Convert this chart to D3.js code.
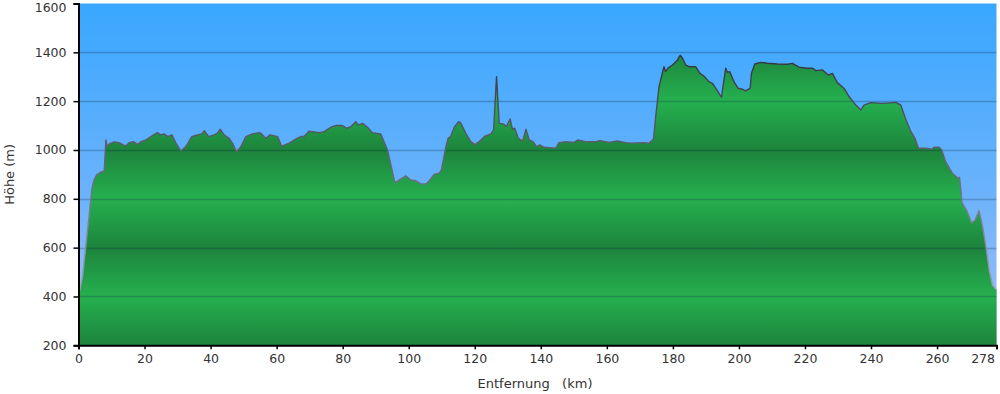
<!DOCTYPE html>
<html lang="de">
<head>
    <meta charset="UTF-8">
    <title>Höhenprofil</title>
    <style>
        body {
            margin: 0;
            background: #fff;
        }
        text {
            font-family: "DejaVu Sans", sans-serif;
            fill: #333;
        }
        .tick text {
            font-size: 12.5px;
        }
        .axis-title {
            font-size: 13px;
        }
    </style>
</head>
<body>
    <svg width="1000" height="394"></svg>

    <script src="https://d3js.org/d3.v7.min.js"></script>
    <script>
        // profile: distance in km, height in m
        var distKm = [0, 0.4, 1.2, 2.2, 3.2, 4.0, 4.7, 5.5, 6.5, 7.8, 8.3, 8.6, 9.3, 10.8, 12.3, 14.3, 15.3, 16.6, 17.9, 18.9,
            20.4, 21.9, 23.9, 24.9, 25.9, 27.0, 28.3, 29.5, 31.0, 32.5, 34.3, 36.0, 37.4, 38.1, 39.4, 41.1, 42.1, 42.9, 44.1, 45.6,
            46.6, 47.9, 49.2, 50.7, 52.7, 54.7, 55.2, 56.7, 58.0, 60.3, 61.5, 63.8, 65.3, 67.3, 68.3, 69.8, 72.9, 74.4, 76.4, 77.9,
            79.9, 81.3, 82.5, 84.0, 84.7, 86.0, 87.5, 89.0, 91.5, 93.6, 95.8, 97.1, 99.1, 100.6, 102.2, 103.7, 105.2, 106.2, 107.7, 109.2,
            109.9, 111.2, 112.0, 112.7, 113.8, 115.1, 115.8, 117.3, 118.8, 120.1, 121.3, 123.1, 124.9, 125.7, 126.6, 127.4, 128.6, 129.6, 130.7, 131.4,
            132.1, 133.2, 134.5, 135.5, 136.5, 137.7, 138.7, 139.7, 141.0, 144.5, 145.5, 147.6, 150.1, 151.1, 153.6, 156.7, 157.9, 160.7, 163.2, 165.7,
            167.3, 171.3, 172.8, 174.1, 174.8, 175.8, 176.9, 177.3, 177.8, 178.5, 179.9, 181.4, 182.2, 182.9, 183.9, 184.9, 186.9, 188.2, 189.4, 190.9,
            192.0, 193.3, 194.7, 196.0, 196.5, 197.2, 198.5, 199.7, 201.0, 202.0, 203.4, 203.8, 204.8, 206.6, 208.6, 211.7, 214.7, 216.2, 218.2, 220.7,
            222.3, 223.3, 225.3, 227.1, 228.3, 229.8, 231.8, 233.4, 235.4, 236.9, 237.9, 239.9, 243.5, 247.5, 249.0, 250.6, 252.1, 253.3, 254.4, 256.6,
            258.4, 259.1, 260.6, 261.4, 262.6, 264.6, 266.4, 266.8, 267.6, 268.9, 270.5, 271.5, 272.7, 273.8, 274.8, 275.8, 276.8, 277.8, 278];
        var elevM = [430, 426, 481, 604, 727, 836, 877, 898, 907, 915, 1041, 1014, 1025, 1033, 1030, 1016, 1030, 1034, 1023, 1034,
            1041, 1055, 1071, 1062, 1066, 1055, 1062, 1028, 996, 1014, 1055, 1062, 1066, 1079, 1055, 1062, 1069, 1085, 1062, 1048,
            1028, 993, 1014, 1055, 1066, 1071, 1069, 1048, 1062, 1055, 1016, 1028, 1041, 1055, 1055, 1077, 1071, 1075, 1093, 1100,
            1100, 1089, 1096, 1116, 1102, 1109, 1093, 1071, 1066, 1000, 866, 877, 894, 877, 874, 861, 861, 874, 900, 905,
            918, 1010, 1050, 1055, 1093, 1116, 1109, 1068, 1034, 1022, 1034, 1057, 1066, 1082, 1300, 1109, 1107, 1096, 1127, 1085,
            1089, 1048, 1036, 1085, 1041, 1034, 1014, 1021, 1011, 1007, 1030, 1034, 1031, 1041, 1034, 1034, 1038, 1031, 1037, 1030,
            1028, 1030, 1028, 1044, 1137, 1259, 1321, 1341, 1321, 1335, 1348, 1369, 1388, 1376, 1348, 1341, 1341, 1314, 1303, 1280,
            1273, 1246, 1216, 1335, 1318, 1321, 1280, 1253, 1249, 1242, 1253, 1314, 1352, 1359, 1355, 1352, 1351, 1355, 1339, 1335,
            1335, 1325, 1328, 1307, 1314, 1276, 1253, 1218, 1184, 1164, 1184, 1194, 1191, 1195, 1184, 1123, 1075, 1048, 1007, 1007,
            1003, 1011, 1011, 1000, 952, 905, 884, 888, 782, 754, 702, 713, 751, 686, 604, 508, 447, 429, 430];

        var xTicks = [0, 20, 40, 60, 80, 100, 120, 140, 160, 180, 200, 220, 240, 260, 278];
        var yTicks = [200, 400, 600, 800, 1000, 1200, 1400, 1600];

        var profile = distKm.map(function(d, i) { return {km: d, m: elevM[i]}; });

        var svg = d3.select("svg"),
            width = +svg.attr("width"),
            height = +svg.attr("height");

        var margin = {top: 3.5, right: 3.5, bottom: 48.7, left: 78.5};

        var x = d3.scaleLinear().domain([0, 278]).range([margin.left, width - margin.right]);
        var y = d3.scaleLinear().domain([200, 1600]).range([height - margin.bottom, margin.top]);

        var defs = svg.append("defs");

        var sky = defs.append("linearGradient")
            .attr("id", "sky")
            .attr("x1", 0).attr("y1", 0).attr("x2", 0).attr("y2", 1);
        sky.append("stop").attr("offset", "0%").attr("stop-color", "#38a7ff");
        sky.append("stop").attr("offset", "55%").attr("stop-color", "#6bb2fb");
        sky.append("stop").attr("offset", "100%").attr("stop-color", "#a6c0f2");

        // green bands: dark and light alternating every 200 m
        var ground = defs.append("linearGradient")
            .attr("id", "ground")
            .attr("gradientUnits", "userSpaceOnUse")
            .attr("x1", 0).attr("x2", 0)
            .attr("y1", y(1600)).attr("y2", y(200));
        yTicks.slice().reverse().forEach(function(v, i) {
            ground.append("stop")
                .attr("offset", (i / (yTicks.length - 1) * 100) + "%")
                .attr("stop-color", (v / 200) % 2 === 1 ? "#1d843c" : "#25b04f");
        });

        var edge = defs.append("linearGradient")
            .attr("id", "edge")
            .attr("gradientUnits", "userSpaceOnUse")
            .attr("x1", 0).attr("x2", 0)
            .attr("y1", y(1400)).attr("y2", y(400));
        edge.append("stop").attr("offset", "0%").attr("stop-color", "#33333d");
        edge.append("stop").attr("offset", "100%").attr("stop-color", "#9ba3bb");

        svg.append("rect")
            .attr("x", x(0))
            .attr("y", y(1600))
            .attr("width", x(278) - x(0))
            .attr("height", y(200) - y(1600))
            .attr("fill", "url(#sky)");

        var area = d3.area()
            .x(function(d) { return x(d.km); })
            .y0(y(200))
            .y1(function(d) { return y(d.m); });

        svg.append("path")
            .datum(profile)
            .attr("d", area)
            .attr("fill", "url(#ground)");

        // grid lines
        svg.append("g")
            .selectAll("line")
            .data(yTicks.slice(1, -1))
            .enter().append("line")
            .attr("x1", x(0))
            .attr("x2", x(278))
            .attr("y1", function(d) { return Math.round(y(d)) + 0.5; })
            .attr("y2", function(d) { return Math.round(y(d)) + 0.5; })
            .attr("stroke", "rgba(10,30,60,0.25)")
            .attr("stroke-width", 1.3);

        var line = d3.line()
            .x(function(d) { return x(d.km); })
            .y(function(d) { return y(d.m); });

        svg.append("path")
            .datum(profile)
            .attr("d", line)
            .attr("fill", "none")
            .attr("stroke", "url(#edge)")
            .attr("stroke-width", 1.4)
            .attr("stroke-linejoin", "round");

        var xAxis = svg.append("g")
            .attr("transform", "translate(0," + y(200) + ")")
            .call(d3.axisBottom(x).tickValues(xTicks).tickSize(4).tickPadding(5).tickFormat(d3.format("d")));

        var yAxis = svg.append("g")
            .attr("transform", "translate(" + x(0) + ",0)")
            .call(d3.axisLeft(y).tickValues(yTicks).tickSize(5).tickPadding(7).tickFormat(d3.format("d")));

        [xAxis, yAxis].forEach(function(a) {
            a.select(".domain").attr("stroke", "#000").attr("stroke-width", 2);
            a.selectAll(".tick line").attr("stroke", "#000").attr("stroke-width", 1.5);
            a.selectAll(".tick text").attr("fill", "#2a2a2a").style("font-family", "DejaVu Sans, sans-serif");
        });

        // keep the end labels inside the picture
        xAxis.selectAll(".tick text")
            .filter(function(d) { return d === 278; })
            .attr("text-anchor", "end")
            .attr("dx", -2);
        yAxis.selectAll(".tick text")
            .filter(function(d) { return d === 1600; })
            .attr("dy", "0.65em");

        svg.append("text")
            .attr("class", "axis-title")
            .attr("x", 535)
            .attr("y", 388)
            .attr("text-anchor", "middle")
            .attr("xml:space", "preserve")
            .text("Entfernung   (km)");

        svg.append("text")
            .attr("class", "axis-title")
            .attr("transform", "translate(14," + y(900) + ") rotate(-90)")
            .attr("text-anchor", "middle")
            .text("Höhe (m)");
    </script>
</body>
</html>
